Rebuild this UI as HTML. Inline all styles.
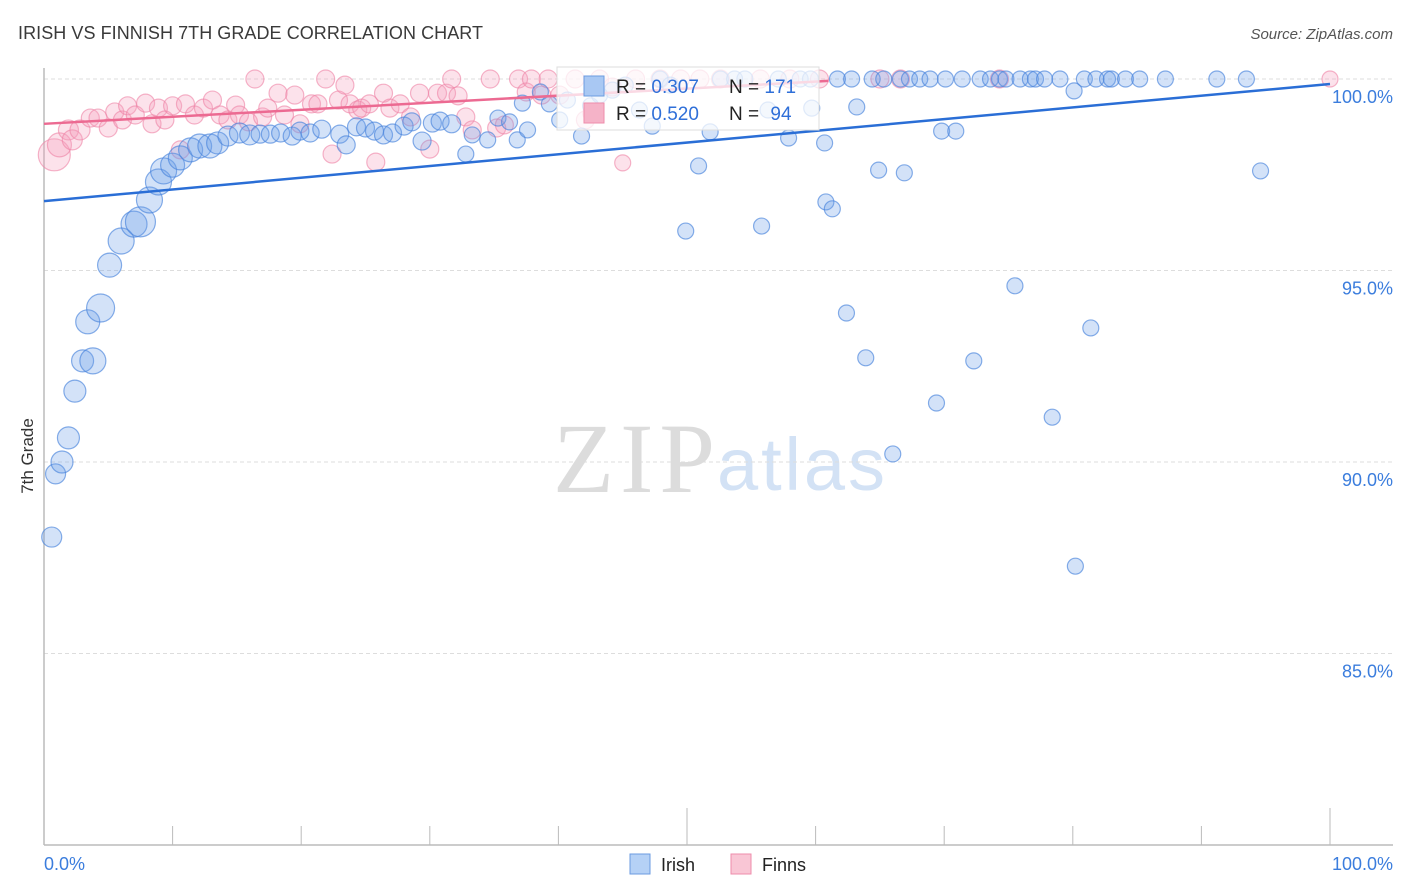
<!DOCTYPE html>
<html><head><meta charset="utf-8"><style>
body{margin:0;background:#fff;font-family:"Liberation Sans",sans-serif;}
svg{display:block}
</style></head><body>
<svg id="chart" width="1406" height="892" xmlns="http://www.w3.org/2000/svg">
<text x="18" y="39" font-size="18" fill="#3a3a3a" textLength="465">IRISH VS FINNISH 7TH GRADE CORRELATION CHART</text>
<text x="1393" y="39" font-size="15" fill="#555" text-anchor="end" font-style="italic">Source: ZipAtlas.com</text>
<g>
<text x="553" y="492" font-size="100" font-family="Liberation Serif,serif" fill="#dcdcdc" textLength="162">ZIP</text>
<text x="717" y="490" font-size="74" fill="#d3e2f5" textLength="168">atlas</text>
</g>
<g id="grid"></g>
<g id="axes"></g>
<g id="pts"></g>
<g id="lines"></g>
<text transform="translate(33,456) rotate(-90)" font-size="17" fill="#333" text-anchor="middle">7th Grade</text>
<g>
<rect x="557" y="67" width="262" height="63" fill="#fff" fill-opacity="0.75" stroke="#ddd"/>
<rect x="584" y="76" width="20" height="20" fill="#a9c8f3" stroke="#6b9be0"/>
<text x="616" y="93" font-size="19" fill="#222">R = <tspan fill="#2f6fd8">0.307</tspan></text>
<text x="729" y="93" font-size="19" fill="#222">N = <tspan fill="#2f6fd8">171</tspan></text>
<rect x="584" y="103" width="20" height="20" fill="#f5b3c8" stroke="#ee8cab"/>
<text x="616" y="120" font-size="19" fill="#222">R = <tspan fill="#2f6fd8">0.520</tspan></text>
<text x="729" y="120" font-size="19" fill="#222">N = <tspan fill="#2f6fd8" dx="6">94</tspan></text>
</g>
<g>
<rect x="630" y="854" width="20" height="20" fill="#b5d1f6" stroke="#6b9be0"/>
<text x="661" y="871" font-size="18" fill="#222">Irish</text>
<rect x="731" y="854" width="20" height="20" fill="#f9c6d5" stroke="#ee8cab"/>
<text x="762" y="871" font-size="18" fill="#222">Finns</text>
</g>
</svg>
<script>
const yTicks=[100,95,90,85];
const yTickLabels=["100.0%","95.0%","90.0%","85.0%"];
const xTickVals=[0,10,20,30,40,50,60,70,80,90,100];
const irishX=[0.6,0.9,1.4,1.9,2.4,3.0,3.8,3.4,4.4,5.1,6.0,7.0,7.5,8.2,8.9,9.3,10.0,10.6,11.4,12.1,12.9,13.5,14.3,15.2,16.0,16.8,17.6,18.4,19.3,19.9,20.7,21.6,23.0,23.5,24.3,25.0,25.7,26.4,27.1,28.0,28.6,29.4,30.2,30.8,31.7,32.8,33.3,34.5,35.3,36.2,36.8,37.2,37.6,38.6,39.3,40.1,40.7,41.8,42.5,43.2,44.2,45.2,46.3,47.3,47.9,48.7,49.9,50.9,51.8,52.6,53.7,54.5,55.8,56.3,57.1,57.9,58.8,59.6,59.7,60.7,60.8,61.3,61.7,62.4,62.8,63.2,63.9,64.4,64.9,65.3,66.0,66.6,66.9,67.3,68.1,68.9,69.4,69.8,70.1,70.9,71.4,72.3,72.8,73.6,74.3,74.8,75.5,75.9,76.7,77.1,77.8,78.4,79.0,80.1,80.2,80.9,81.4,81.8,82.7,83.0,84.1,85.2,87.2,91.2,93.5,94.6];
const irishY=[88.04,89.69,90.0,90.63,91.85,92.64,92.64,93.66,94.02,95.14,95.77,96.21,96.27,96.84,97.31,97.6,97.75,97.94,98.15,98.25,98.25,98.33,98.51,98.59,98.54,98.56,98.56,98.59,98.51,98.64,98.59,98.69,98.56,98.28,98.75,98.72,98.64,98.54,98.59,98.77,98.88,98.38,98.85,98.9,98.83,98.04,98.54,98.41,98.98,98.88,98.41,99.37,98.67,99.66,99.35,98.93,99.45,98.51,99.3,99.58,99.71,99.84,99.19,98.77,100,99.84,96.03,97.73,98.62,100,100,100,96.16,99.19,100,98.46,100,100,99.24,98.33,96.79,96.61,100,93.89,100,99.27,92.72,100,97.62,100,90.21,100,97.55,100,100,100,91.54,98.64,100,98.64,100,92.64,100,100,100,100,94.6,100,100,100,100,91.17,100,99.69,87.28,100,93.5,100,100,100,100,100,100,100,100,97.6];
const irishW=[10,10,11,11,11,11,13,12,14,12,13,13,15,13,13,13,12,12,12,12,12,11,10,10,10,9,9,9,9,9,9,9,9,9,9,9,9,9,9,9,9,9,9,9,9,8,8,8,8,8,8,8,8,8,8,8,8,8,8,8,8,8,8,8,8,8,8,8,8,8,8,8,8,8,8,8,8,8,8,8,8,8,8,8,8,8,8,8,8,8,8,8,8,8,8,8,8,8,8,8,8,8,8,8,8,8,8,8,8,8,8,8,8,8,8,8,8,8,8,8,8,8,8,8,8,8,8];
const finnsX=[0.8,1.2,1.9,2.2,2.8,3.6,4.2,5.0,5.5,6.1,6.5,7.1,7.9,8.4,8.9,9.4,10.0,10.6,11.0,11.7,12.4,13.1,13.7,14.3,14.9,15.2,15.9,16.4,17.0,17.4,18.2,18.7,19.5,19.9,20.8,21.3,21.9,22.4,22.9,23.4,23.8,24.4,24.7,25.3,25.8,26.4,26.9,27.7,28.5,29.2,30.0,30.6,31.3,31.7,32.2,32.8,33.3,34.7,35.2,35.8,36.9,37.5,37.9,38.7,39.2,40.1,41.3,42.1,42.6,43.2,44.2,45.0,46.0,47.9,49.5,51.0,52.6,55.7,58.0,60.3,65.0,66.6,74.3,100];
const finnsY=[98.02,98.28,98.67,98.41,98.67,98.98,98.98,98.72,99.14,98.93,99.3,99.06,99.37,98.83,99.24,98.93,99.3,98.15,99.35,99.06,99.24,99.45,99.06,98.93,99.32,99.06,98.88,100,99.01,99.24,99.63,99.06,99.58,98.83,99.35,99.35,100,98.04,99.45,99.84,99.35,99.19,99.24,99.35,97.83,99.63,99.24,99.35,99.01,99.63,98.17,99.63,99.63,100,99.56,99.01,98.67,100,98.72,98.8,100,99.66,100,99.58,100,99.58,100,98.93,99.11,100,99.79,97.81,100,100,100,100,100,100,100,100,100,100,100,100];
const finnsW=[16,12,10,10,10,9,9,9,9,9,9,9,9,9,9,9,9,9,9,9,9,9,9,9,9,9,9,9,9,9,9,9,9,9,9,9,9,9,9,9,9,9,9,9,9,9,9,9,9,9,9,9,9,9,9,9,9,9,9,9,9,9,9,9,9,9,9,9,9,9,9,8,9,9,9,9,9,9,9,9,9,9,9,8];
const irishTrend=[[0,96.81],[100,99.87]];
const finnsTrend=[[0,98.83],[61,99.95]];

const NS="http://www.w3.org/2000/svg";
const X0=44,X1=1330,YTOP=79,PXPER=38.3;
function sx(v){return X0+(X1-X0)*v/100;}
function sy(v){return YTOP+(100-v)*PXPER;}
function mk(tag,attrs,parent){const e=document.createElementNS(NS,tag);for(const k in attrs)e.setAttribute(k,attrs[k]);parent.appendChild(e);return e;}
const grid=document.getElementById('grid'),axes=document.getElementById('axes'),pts=document.getElementById('pts'),lines=document.getElementById('lines');
yTicks.forEach((t,i)=>{
  const l=mk('line',{x1:X0,x2:1393,y1:sy(t),y2:sy(t),stroke:'#ddd','stroke-dasharray':'4,3'},grid);
  
  
  const tx=mk('text',{x:1393,y:sy(t)+24,'font-size':18,fill:'#3b7ddd','text-anchor':'end'},grid);
  tx.textContent=yTickLabels[i];
  
  
});
const ax=mk('line',{x1:X0,x2:X0,y1:68,y2:845,stroke:'#bbb','stroke-width':1.5},axes);


const bx=mk('line',{x1:X0,x2:1393,y1:845,y2:845,stroke:'#bbb','stroke-width':1.5},axes);


xTickVals.forEach(v=>{
  const major=(v===50||v===100);
  const t=mk('line',{x1:sx(v),x2:sx(v),y1:major?808:826,y2:845,stroke:'#bbb'},axes);
  
  
});
const xl0=mk('text',{x:X0,y:870,'font-size':18,fill:'#3b7ddd'},axes);xl0.textContent='0.0%';


const xl1=mk('text',{x:1393,y:870,'font-size':18,fill:'#3b7ddd','text-anchor':'end'},axes);xl1.textContent='100.0%';


finnsX.forEach((v,i)=>{
  const c=mk('circle',{cx:sx(v),cy:sy(finnsY[i]),r:finnsW[i],fill:'rgba(244,160,188,0.3)',stroke:'rgba(238,130,165,0.6)','stroke-width':1.2},pts);
  
  
});
irishX.forEach((v,i)=>{
  const c=mk('circle',{cx:sx(v),cy:sy(irishY[i]),r:irishW[i],fill:'rgba(110,160,232,0.3)',stroke:'rgba(70,130,220,0.65)','stroke-width':1.2},pts);
  
  
});
const lb=mk('line',{x1:sx(irishTrend[0][0]),y1:sy(irishTrend[0][1]),x2:sx(irishTrend[1][0]),y2:sy(irishTrend[1][1]),stroke:'#2a6ed6','stroke-width':2.5},lines);


const lp=mk('line',{x1:sx(finnsTrend[0][0]),y1:sy(finnsTrend[0][1]),x2:sx(finnsTrend[1][0]),y2:sy(finnsTrend[1][1]),stroke:'#ec6a92','stroke-width':2.5},lines);


</script>
</body></html>
